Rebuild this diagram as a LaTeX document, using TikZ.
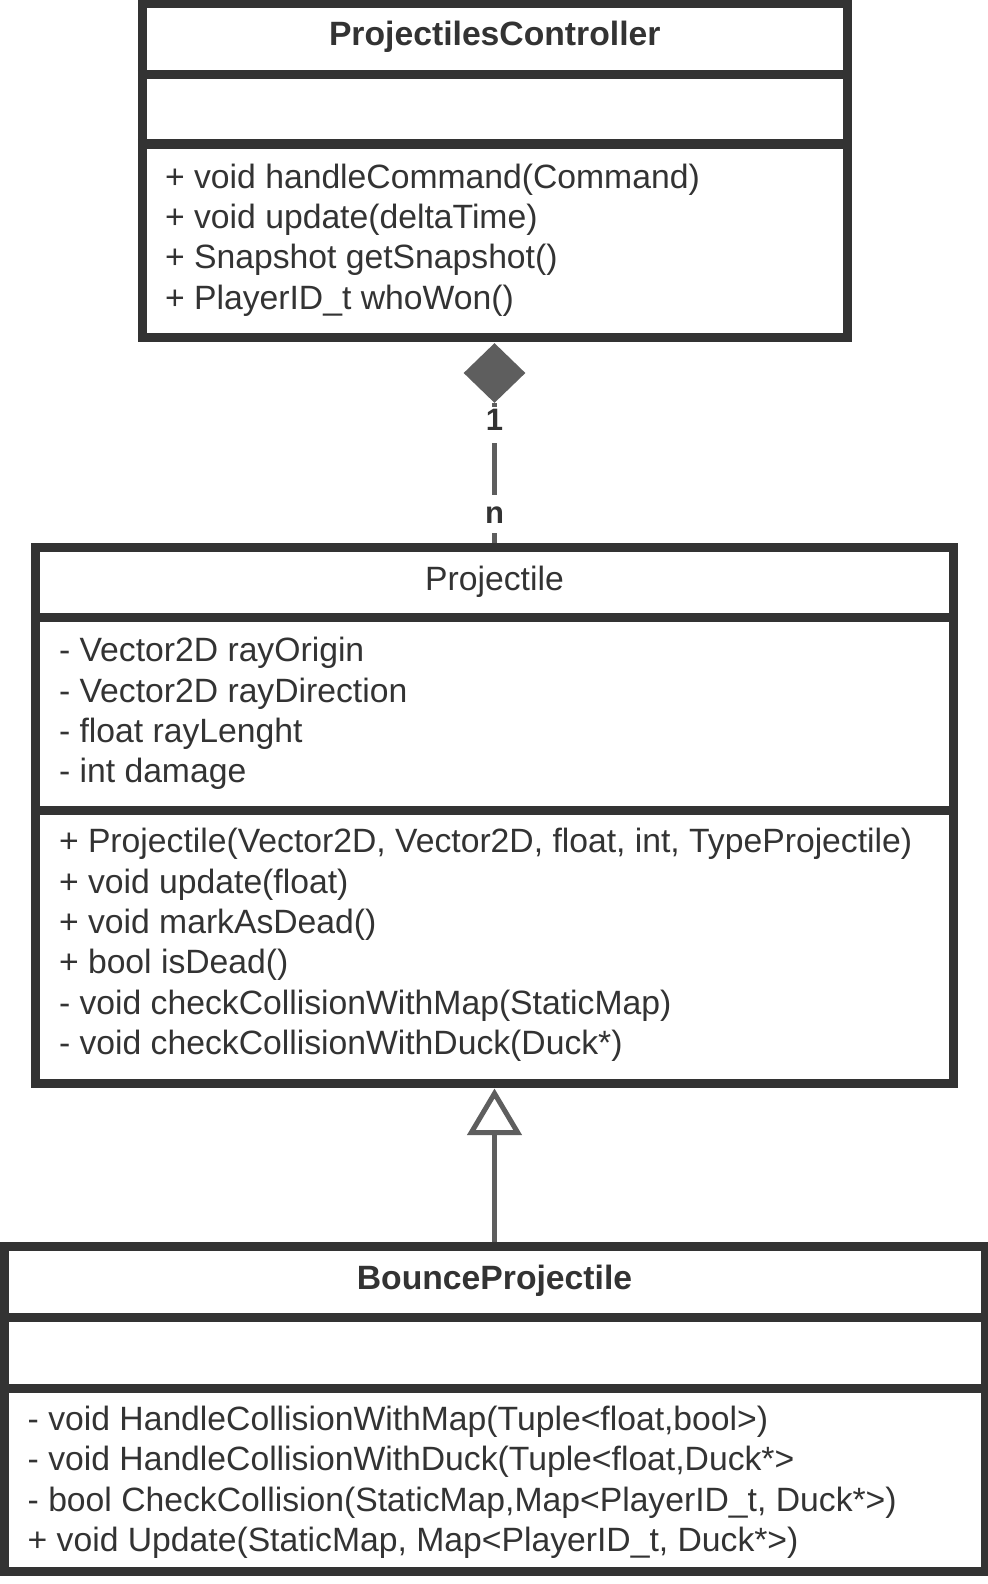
\documentclass[tikz,border=0pt]{standalone}
\usepackage{fontspec}
\setmainfont{Liberation Sans}
\usetikzlibrary{shapes.geometric,arrows.meta,calc}
\definecolor{bordc}{HTML}{333333}
\definecolor{linec}{HTML}{5E5E5E}
\tikzset{
  classbox/.style={draw=bordc, line width=4.5pt, rectangle, inner sep=0pt, fill=white},
  divline/.style={draw=bordc, line width=4.5pt},
  txt/.style={anchor=base west, inner sep=0pt, text=bordc, font=\fontsize{16.85pt}{20pt}\selectfont},
  ttl/.style={anchor=base, inner sep=0pt, text=bordc, font=\fontsize{16.85pt}{20pt}\selectfont\bfseries},
  ttlreg/.style={anchor=base, inner sep=0pt, text=bordc, font=\fontsize{16.85pt}{20pt}\selectfont},
  mult/.style={anchor=base, inner sep=0pt, text=bordc, font=\fontsize{15.5pt}{18pt}\selectfont\bfseries},
  assoc/.style={draw=linec, line width=2.5pt, dash pattern=on 2pt off 18pt on 26pt off 19pt on 30pt},
  gen/.style={draw=linec, line width=2.5pt, -{Triangle[open, length=23.3pt, width=27pt]}},
  compos/.style={diamond, fill=linec, draw=none, inner sep=0pt, minimum width=31pt, minimum height=30pt}
}
\begin{document}
\begin{tikzpicture}[x=0.5pt, y=-0.5pt]
\useasboundingbox (0,0) rectangle (988,1584);

% ---------- ProjectilesController ----------
\node[classbox, minimum width=352.45pt, minimum height=167.1pt] (pc) at (494.75,170.6) {};
\coordinate (pcd1) at (0,74.5);
\coordinate (pcd2) at (0,144);
\draw[divline] (pc.west |- pcd1) -- (pc.east |- pcd1);
\draw[divline] (pc.west |- pcd2) -- (pc.east |- pcd2);
\node[ttl] (pct) at (494.75,45.5) {ProjectilesController};
\node[txt] (pcm1) at (164.7,188) {+ void handleCommand(Command)};
\node[txt] (pcm2) at (164.7,228.4) {+ void update(deltaTime)};
\node[txt] (pcm3) at (164.7,268.8) {+ Snapshot getSnapshot()};
\node[txt] (pcm4) at (164.7,309.2) {+ PlayerID\_t whoWon()};

% ---------- Projectile ----------
\node[classbox, minimum width=459pt, minimum height=267.75pt] (proj) at (494.5,815.25) {};
\coordinate (prd1) at (0,617.5);
\coordinate (prd2) at (0,810);
\draw[divline] (proj.west |- prd1) -- (proj.east |- prd1);
\draw[divline] (proj.west |- prd2) -- (proj.east |- prd2);
\node[ttlreg] (prt) at (494.5,590) {Projectile};
\node[txt] (pra1) at (58.6,661.6) {- Vector2D rayOrigin};
\node[txt] (pra2) at (58.6,702) {- Vector2D rayDirection};
\node[txt] (pra3) at (58.6,742.4) {- float rayLenght};
\node[txt] (pra4) at (58.6,782.8) {- int damage};
\node[txt] (prm1) at (58.6,852.5) {+ Projectile(Vector2D, Vector2D, float, int, TypeProjectile)};
\node[txt] (prm2) at (58.6,893) {+ void update(float)};
\node[txt] (prm3) at (58.6,933.3) {+ void markAsDead()};
\node[txt] (prm4) at (58.6,973.7) {+ bool isDead()};
\node[txt] (prm5) at (58.6,1014) {- void checkCollisionWithMap(StaticMap)};
\node[txt] (prm6) at (58.6,1054.5) {- void checkCollisionWithDuck(Duck*)};

% ---------- BounceProjectile ----------
\node[classbox, minimum width=490.5pt, minimum height=162.15pt] (bp) at (494.5,1408.85) {};
\coordinate (bpd1) at (0,1317.7);
\coordinate (bpd2) at (0,1388);
\draw[divline] (bp.west |- bpd1) -- (bp.east |- bpd1);
\draw[divline] (bp.west |- bpd2) -- (bp.east |- bpd2);
\node[ttl] (bpt) at (494.5,1289) {BounceProjectile};
\node[txt] (bpm1) at (27.3,1430.3) {- void HandleCollisionWithMap(Tuple<float,bool>)};
\node[txt] (bpm2) at (27.3,1470.7) {- void HandleCollisionWithDuck(Tuple<float,Duck*>};
\node[txt] (bpm3) at (27.3,1511.1) {- bool CheckCollision(StaticMap,Map<PlayerID\_t, Duck*>)};
\node[txt] (bpm4) at (27.3,1551.5) {+ void Update(StaticMap, Map<PlayerID\_t, Duck*>)};

% ---------- Composition ----------
\node[compos] (dia) at (494.5,373) {};
\draw[assoc] (dia.south) -- (proj.north);
\node[mult] (m1) at (494.5,430) {1};
\node[mult] (mn) at (494.5,523) {n};

% ---------- Generalization ----------
\coordinate (gtip) at ($(proj.south)+(0,1)$);
\draw[gen] (bp.north) -- (gtip);
\end{tikzpicture}
\end{document}
